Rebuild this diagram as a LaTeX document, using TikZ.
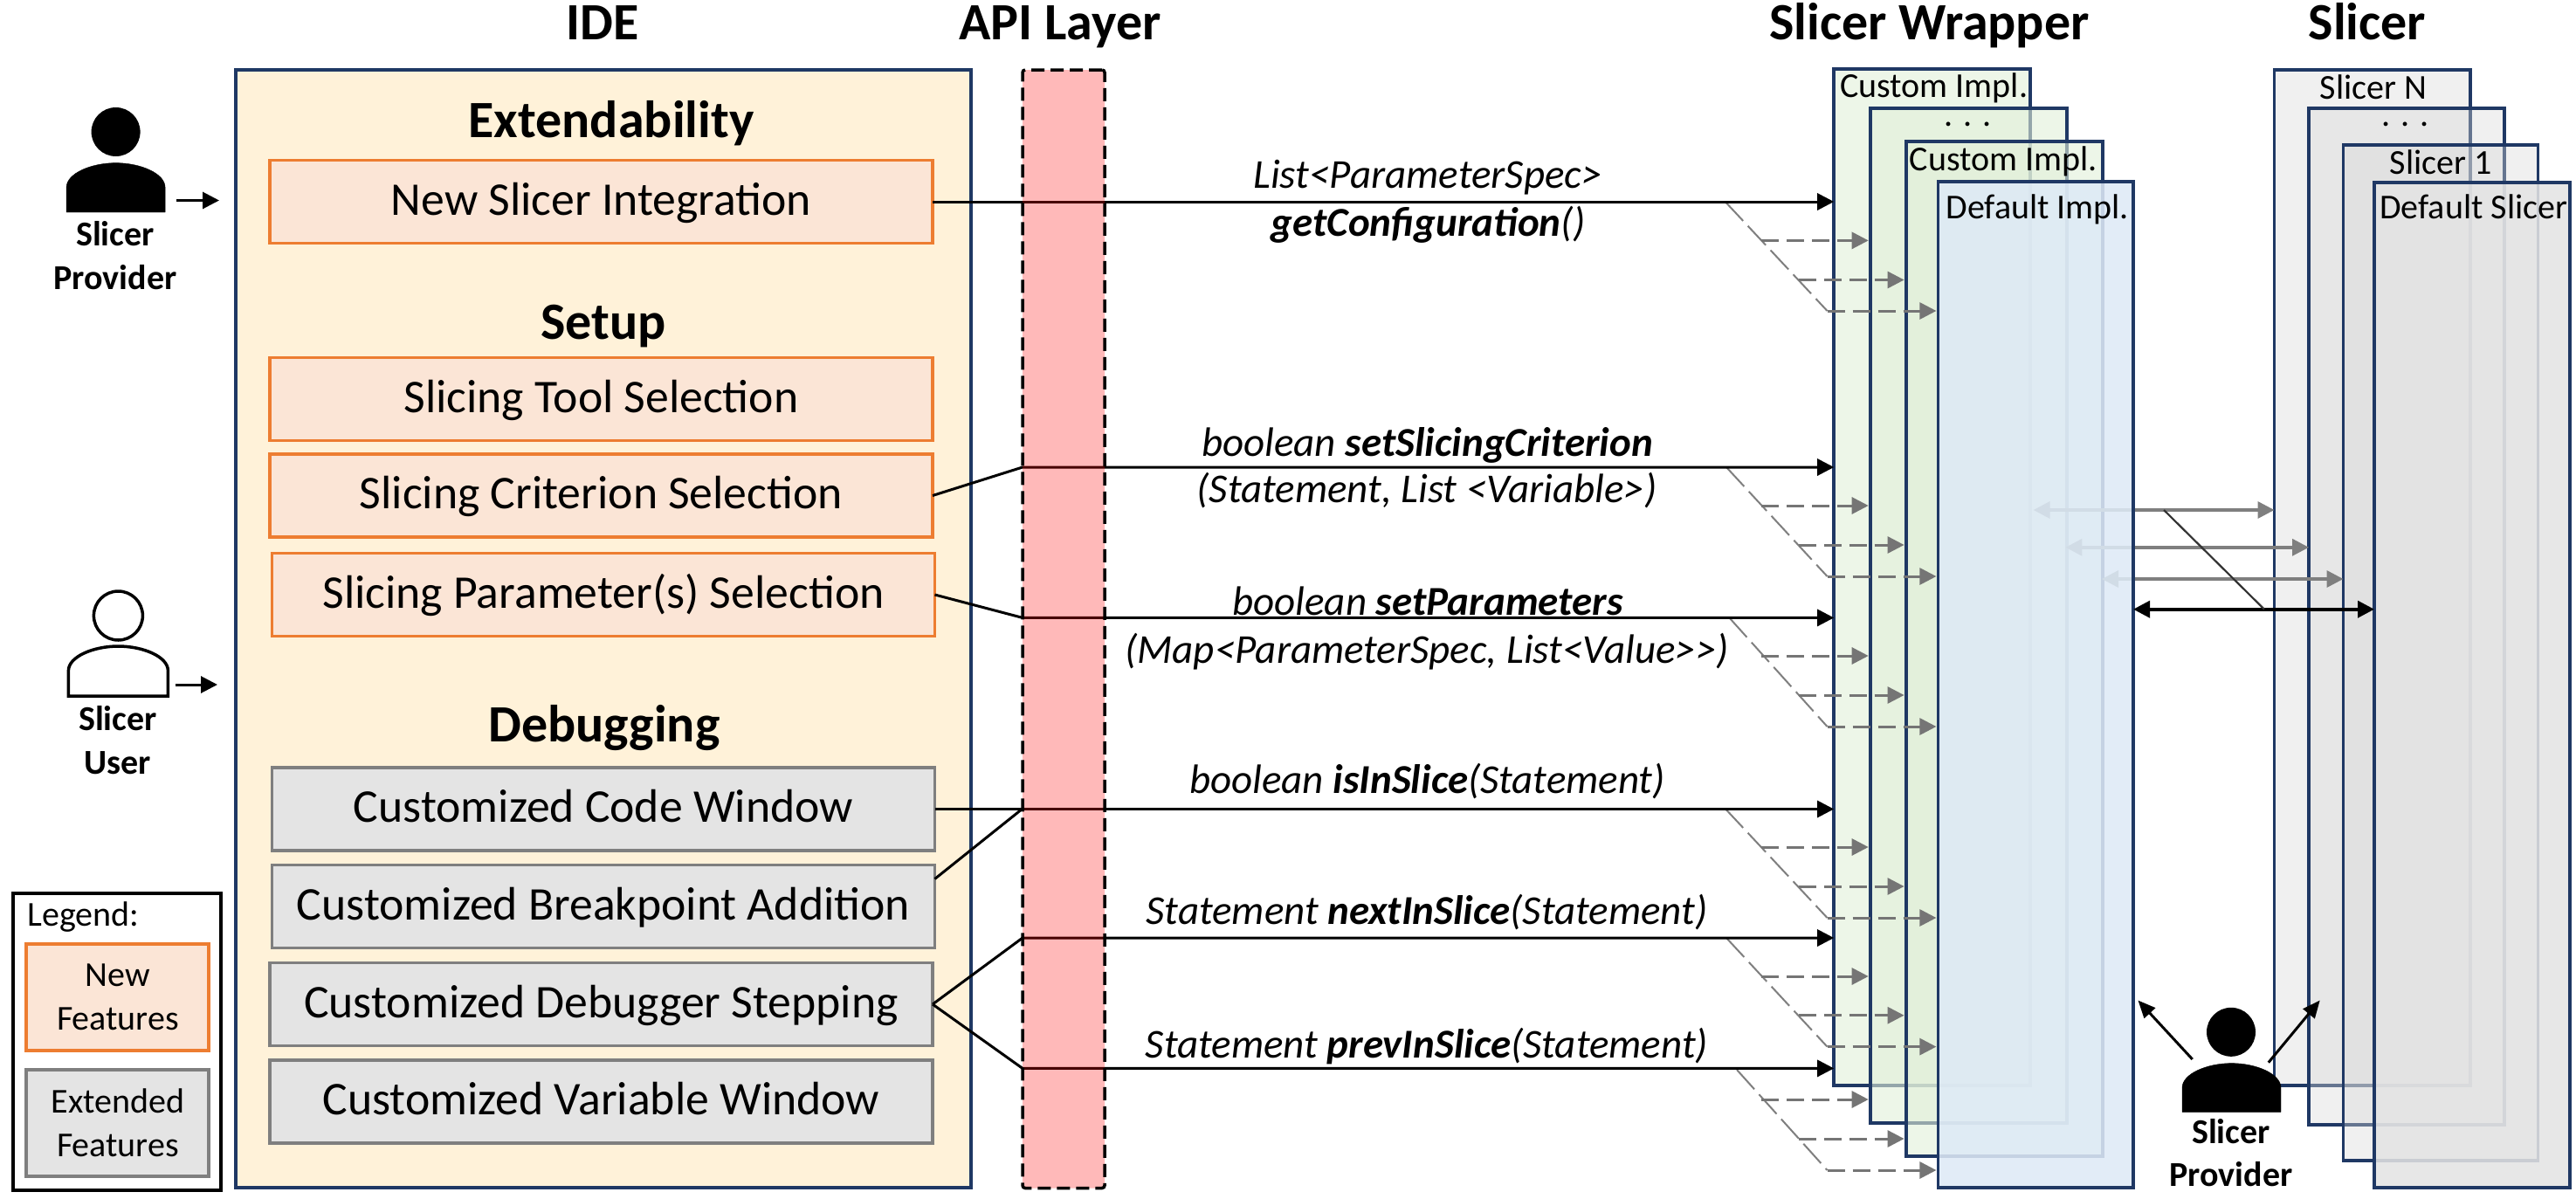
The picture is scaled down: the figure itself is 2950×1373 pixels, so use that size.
\documentclass[tikz,border=0pt]{standalone}
\usepackage{fontspec}
\setmainfont{Carlito}
\usetikzlibrary{arrows.meta,calc}
\definecolor{navy}{HTML}{1F3864}
\definecolor{idefill}{HTML}{FFF2D9}
\definecolor{orangeline}{HTML}{ED7D31}
\definecolor{orangefill}{HTML}{FBE5D6}
\definecolor{grayline}{HTML}{7F7F7F}
\definecolor{grayfill}{HTML}{E4E4E4}
\definecolor{greenfill}{HTML}{E2F0D9}
\definecolor{bluefill}{HTML}{DEEAF6}
\definecolor{slfill}{HTML}{D9D9D9}
\newcommand{\fs}[1]{\fontsize{#1}{#1}\selectfont}
\tikzset{
  feat/.style={minimum width=759pt,minimum height=95pt,inner sep=0pt,outer sep=0pt,line width=3.8pt,text height=41pt,text depth=11pt,font=\fs{53.7}},
  newfeat/.style={feat,draw=orangeline,fill=orangefill},
  extfeat/.style={feat,draw=grayline,fill=grayfill},
  title/.style={anchor=base,font=\fs{60}\bfseries,inner sep=0pt,yshift=-2pt},
  label/.style={anchor=base,font=\fs{47}\itshape,inner sep=0pt,yshift=-2pt},
  small/.style={anchor=base,font=\fs{40},inner sep=0pt,yshift=-1pt},
  who/.style={anchor=base,font=\fs{40}\bfseries,inner sep=0pt},
  legtext/.style={anchor=base,font=\fs{40},inner sep=0pt},
  panel/.style={anchor=north west,inner sep=0pt,outer sep=0pt,line width=3.8pt,draw=navy},
  wrap/.style={panel,fill=greenfill,fill opacity=0.6,draw opacity=1},
  slic/.style={panel,fill=slfill,fill opacity=0.38,draw opacity=1},
  tipA/.style={-{Triangle[length=19pt,width=19pt]}},
  tipB/.style={{Triangle[length=19pt,width=19pt]}-{Triangle[length=19pt,width=19pt]}},
  mainline/.style={line width=3pt,black,tipA,line join=round},
  diag/.style={line width=2pt,color=grayline,dash pattern=on 30pt off 8pt},
  branch/.style={line width=3pt,color=grayline!92!black,dash pattern=on 20pt off 9pt,tipA,shorten >=2pt},
  both/.style={line width=3.5pt,color=grayline,tipB},
  legendbox/.style={minimum width=209pt,minimum height=122pt,inner sep=0pt,line width=3.8pt,align=center},
}
% #1 id, #2 x-start, #3 y0, #4,#5,#6 branch ys
\newcommand{\fan}[6]{%
  \coordinate (f#1s) at (#2,#3);
  \coordinate (f#1a) at (2017,#4);
  \coordinate (f#1b) at (2059.5,#5);
  \coordinate (f#1c) at (2092.5,#6);
  \draw[diag] (f#1s) -- (f#1c);
  \draw[branch] (f#1a) -- (f#1a -| w2.west);
  \draw[branch] (f#1b) -- (f#1b -| w3.west);
  \draw[branch] (f#1c) -- (f#1c -| w4sh);
}
% person body: #1 cx, #2 top, #3 bottom, #4 half width, #5 style
\newcommand{\personbody}[5]{%
  \draw[#5] ({#1-#4},#3) -- ({#1-#4},{#2+28})
    .. controls ({#1-#4},{#2+12}) and ({#1-#4*0.5},#2) .. (#1,#2)
    .. controls ({#1+#4*0.5},#2) and ({#1+#4},{#2+12}) .. ({#1+#4},{#2+28})
    -- ({#1+#4},#3) -- cycle;
}
\begin{document}
\begin{tikzpicture}[x=1pt,y=-1pt]
\useasboundingbox[fill=white] (0,0) rectangle (2950,1373);

% IDE panel
\node[panel,fill=idefill,minimum width=842pt,minimum height=1280pt] (ide) at (270,80) {};
\node[title] (tide) at (690,43) {IDE};
\node[title] (tapi) at (1214,43) {API Layer};
\node[title] (twrap) at (2209.5,43) {Slicer Wrapper};
\node[title] (tslicer) at (2711,43) {Slicer};

\node[title] (hext) at (700,155) {Extendability};
\node[title] (hset) at (691,386) {Setup};
\node[title] (hdbg) at (692,847) {Debugging};

\node[newfeat] (nsi) at (688.5,231) {New Slicer Integration};
\node[newfeat] (sts) at (688.5,457) {Slicing Tool Selection};
\node[newfeat] (scs) at (688.5,567.5) {Slicing Criterion Selection};
\node[newfeat] (sps) at (691,681) {Slicing Parameter(s) Selection};
\node[extfeat] (ccw) at (691,926.5) {Customized Code Window};
\node[extfeat] (cba) at (691,1038) {Customized Breakpoint Addition};
\node[extfeat] (cds) at (688.5,1150) {Customized Debugger Stepping};
\node[extfeat] (cvw) at (688.5,1261.5) {Customized Variable Window};

% Wrapper and slicer stacks (back layers)
\node[wrap,minimum width=225pt,minimum height=1164pt] (w1) at (2100.2,79) {};
\node[wrap,minimum width=225pt,minimum height=1162pt] (w2) at (2141.7,124) {};
\node[wrap,minimum width=225pt,minimum height=1162pt] (w3) at (2182.6,162) {};
\node[slic,minimum width=224.5pt,minimum height=1163pt] (s1) at (2604.5,80) {};
\node[slic,minimum width=224pt,minimum height=1164pt] (s2) at (2644,124) {};
\node[slic,minimum width=223pt,minimum height=1163pt] (s3) at (2683.5,166) {};
\coordinate (w4sh) at (2219.4,208);
\coordinate (s4sh) at (2719,209);

% Fans
\fan{1}{1975.7}{231}{275.4}{320.5}{356}
\fan{2}{1977}{535}{579}{624}{660}
\fan{3}{1980.4}{707.4}{751}{796}{832}
\fan{4}{1975.7}{926}{970}{1015}{1051}
\fan{5}{1977}{1074}{1118}{1162.7}{1198.6}
\fan{6}{1989}{1225}{1259}{1304}{1340}

% Main connectors
\coordinate (j2) at (1171,535);
\coordinate (j3) at (1171,707.4);
\coordinate (j4) at (1171,926);
\coordinate (j5) at (1171,1074);
\coordinate (j6) at (1171,1223.4);
\draw[mainline] (nsi.east) -- (nsi.east -| w1.west);
\draw[mainline] (scs.east) -- (j2) -- (j2 -| w1.west);
\draw[mainline] (sps.east) -- (j3) -- (j3 -| w1.west);
\draw[mainline] (ccw.east) -- (ccw.east -| w1.west);
\draw[line width=3pt] ([yshift=31.5pt]cba.east) -- (j4);
\draw[mainline] (cds.east) -- (j5) -- (j5 -| w1.west);
\draw[mainline] (cds.east) -- (j6) -- (j6 -| w1.west);

% API layer over the connectors
\node[anchor=north west,inner sep=0pt,outer sep=0pt,minimum width=94pt,minimum height=1280.5pt,
  fill=red,fill opacity=0.275,draw=black,draw opacity=1,line width=3.5pt,dash pattern=on 15pt off 7pt,rounded corners=3pt] (api) at (1171,80) {};

% Grey two-way connectors
\coordinate (c1) at (2328.6,584);
\coordinate (c2) at (2365.4,626.8);
\coordinate (c3) at (2407,663);
\draw[both] (c1) -- (c1 -| s1.west);
\draw[both] (c2) -- (c2 -| s2.west);
\draw[both] (c3) -- (c3 -| s3.west);

% Front layers
\node[panel,fill=bluefill,fill opacity=0.87,draw opacity=1,minimum width=223.6pt,minimum height=1152pt] (w4) at (w4sh) {};
\node[panel,fill=grayfill,fill opacity=0.87,draw opacity=1,minimum width=223.7pt,minimum height=1151pt] (s4) at (s4sh) {};

\coordinate (k1) at (2478,584);
\coordinate (k2) at (2593,697.7);
\draw[line width=3.8pt,black,tipB] (w4.east |- k2) -- (s4.west |- k2);
\draw[line width=2.2pt,black!80] (k1) -- (k2);

% Stack captions
\node[small] (lw1) at (2214.7,110.7) {Custom Impl.};
\node[small] (lw2) at (2253.6,143) {. . .};
\node[small] (lw3) at (2294.4,194.6) {Custom Impl.};
\node[small] (lw4) at (2333.3,249) {Default Impl.};
\node[small] (ls1) at (2718,112.5) {Slicer N};
\node[small] (ls2) at (2754.5,143) {. . .};
\node[small] (ls3) at (2795.3,198.7) {Slicer 1};
\node[small] (ls4) at (2832.8,249) {Default Slicer};

% API labels
\node[label] (a1a) at (1635,213) {List<ParameterSpec>};
\node[label] (a1b) at (1636,268) {\textbf{getConfiguration}()};
\node[label] (a2a) at (1634.5,520) {boolean \textbf{setSlicingCriterion}};
\node[label] (a2b) at (1634,573.7) {(Statement, List <Variable>)};
\node[label] (a3a) at (1635,702) {boolean \textbf{setParameters}};
\node[label] (a3b) at (1634,757) {(Map<ParameterSpec, List<Value>{}>)};
\node[label] (a4) at (1634.5,906.5) {boolean \textbf{isInSlice}(Statement)};
\node[label] (a5) at (1634,1056) {Statement \textbf{nextInSlice}(Statement)};
\node[label] (a6) at (1634,1209) {Statement \textbf{prevInSlice}(Statement)};

% Left persons
\node[fill=black,circle,inner sep=0pt,minimum width=56pt] (p1h) at (132.6,151) {};
\personbody{132.6}{186.6}{243}{56.5}{fill=black}
\node[who] (p1a) at (132,281) {Slicer};
\node[who] (p1b) at (132,331) {Provider};
\coordinate (p1r) at (202,229.5);
\draw[line width=3pt,tipA,shorten >=19pt] (p1r) -- (p1r -| ide.west);

\node[draw=black,line width=3.5pt,circle,inner sep=0pt,minimum width=56pt] (p2h) at (135.4,705) {};
\personbody{135.4}{740}{797}{57}{draw=black,line width=3.5pt}
\node[who] (p2a) at (135,836) {Slicer};
\node[who] (p2b) at (135,886) {User};
\coordinate (p2r) at (200.6,784);
\draw[line width=3pt,tipA,shorten >=21pt] (p2r) -- (p2r -| ide.west);

% Right person
\node[fill=black,circle,inner sep=0pt,minimum width=56pt] (p3h) at (2555,1181.8) {};
\personbody{2555.5}{1217.6}{1273.4}{56.5}{fill=black}
\node[who] (p3a) at (2555,1309) {Slicer};
\node[who] (p3b) at (2555,1358) {Provider};
\coordinate (p3l) at (2510.7,1213);
\coordinate (p3lt) at (2448.4,1145.5);
\coordinate (p3r) at (2597.8,1216.7);
\coordinate (p3rt) at (2656.7,1145.5);
\draw[line width=3pt,-{Triangle[length=20pt,width=17pt]}] (p3l) -- (p3lt);
\draw[line width=3pt,-{Triangle[length=20pt,width=17pt]}] (p3r) -- (p3rt);

% Legend
\node[anchor=north west,draw=black,line width=3.5pt,inner sep=0pt,minimum width=238pt,minimum height=340pt] (leg) at (13,1021) {};
\node[legtext,anchor=base west] (legt) at (31.5,1060.5) {Legend:};
\node[legendbox,draw=orangeline,fill=orangefill] (lnew) at (134.5,1141.7) {};
\node[legendbox,draw=grayline,fill=grayfill] (lext) at (134.5,1286) {};
\node[legtext] (ln1) at (135,1129) {New};
\node[legtext] (ln2) at (135,1179) {Features};
\node[legtext] (le1) at (135,1274) {Extended};
\node[legtext] (le2) at (135,1324) {Features};
\end{tikzpicture}
\end{document}
